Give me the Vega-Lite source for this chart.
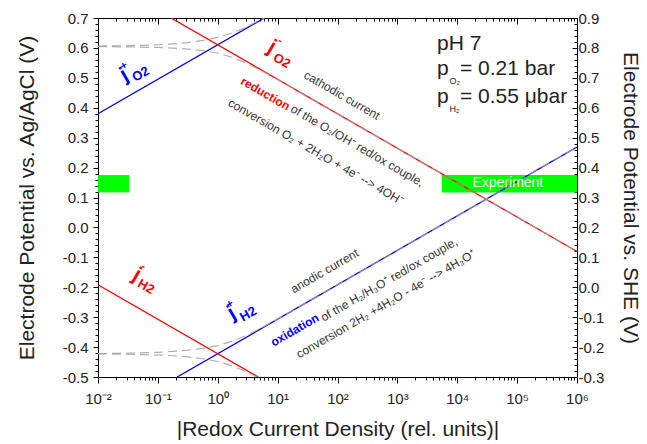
{
  "$schema": "https://vega.github.io/schema/vega-lite/v6.json",
  "width": 479,
  "height": 359,
  "autosize": {"type": "none"},
  "padding": {"left": 98, "top": 18, "right": 70, "bottom": 67},
  "background": "white",
  "config": {
    "view": {"stroke": null},
    "font": "Liberation Sans",
    "axis": {"grid": false, "domainColor": "#000", "tickColor": "#000", "labelColor": "#222", "titleColor": "#222", "labelFont": "Liberation Sans", "titleFont": "Liberation Sans", "labelFontSize": 15, "titleFontSize": 21, "titleFontWeight": "normal", "domainWidth": 1, "tickWidth": 1, "labelOverlap": false, "labelFlush": false}
  },
  "datasets": {
    "bands": [
      {"j": 0.01, "j2": 0.033, "V": 0.117, "V2": 0.175},
      {"j": 5500, "j2": 1000000, "V": 0.117, "V2": 0.175}
    ],
    "exp": [{"j": 70000, "V": 0.1475, "label": "Experiment"}],
    "tafel": [
      {"series": "jO2p", "j": 0.01, "V": 0.3798},
      {"series": "jO2p", "j": 6.03, "V": 0.7},
      {"series": "jO2m", "j": 0.166, "V": 0.7},
      {"series": "jO2m", "j": 1000000, "V": -0.0806},
      {"series": "jH2p", "j": 0.21, "V": -0.5},
      {"series": "jH2p", "j": 1000000, "V": 0.2686},
      {"series": "jH2m", "j": 0.01, "V": -0.1918},
      {"series": "jH2m", "j": 4.76, "V": -0.5}
    ],
    "net": [
      {"branch": "nO2a", "j": 0.01, "V": 0.6063},
      {"branch": "nO2a", "j": 0.03162, "V": 0.6075},
      {"branch": "nO2a", "j": 0.1, "V": 0.6105},
      {"branch": "nO2a", "j": 0.1778, "V": 0.6134},
      {"branch": "nO2a", "j": 0.3162, "V": 0.6179},
      {"branch": "nO2a", "j": 0.5623, "V": 0.6249},
      {"branch": "nO2a", "j": 1, "V": 0.6351},
      {"branch": "nO2a", "j": 1.778, "V": 0.65},
      {"branch": "nO2a", "j": 3.162, "V": 0.6719},
      {"branch": "nO2a", "j": 5.623, "V": 0.6979},
      {"branch": "nO2a", "j": 6.03, "V": 0.7011},
      {"branch": "nO2c", "j": 0.01, "V": 0.6048},
      {"branch": "nO2c", "j": 0.03162, "V": 0.6035},
      {"branch": "nO2c", "j": 0.1, "V": 0.6015},
      {"branch": "nO2c", "j": 0.1778, "V": 0.5996},
      {"branch": "nO2c", "j": 0.3162, "V": 0.5961},
      {"branch": "nO2c", "j": 0.5623, "V": 0.5911},
      {"branch": "nO2c", "j": 1, "V": 0.5829},
      {"branch": "nO2c", "j": 1.778, "V": 0.568},
      {"branch": "nO2c", "j": 3.162, "V": 0.5471},
      {"branch": "nO2c", "j": 5.623, "V": 0.5216},
      {"branch": "nO2c", "j": 10, "V": 0.4942},
      {"branch": "nO2c", "j": 17.78, "V": 0.4659},
      {"branch": "nO2c", "j": 31.62, "V": 0.4373},
      {"branch": "nO2c", "j": 100, "V": 0.3797},
      {"branch": "nO2c", "j": 1000, "V": 0.2646},
      {"branch": "nO2c", "j": 10000, "V": 0.1495},
      {"branch": "nO2c", "j": 100000, "V": 0.0344},
      {"branch": "nO2c", "j": 1000000, "V": -0.0808},
      {"branch": "nH2a", "j": 0.01, "V": -0.4218},
      {"branch": "nH2a", "j": 0.03162, "V": -0.4205},
      {"branch": "nH2a", "j": 0.1, "V": -0.4175},
      {"branch": "nH2a", "j": 0.1778, "V": -0.4146},
      {"branch": "nH2a", "j": 0.3162, "V": -0.4101},
      {"branch": "nH2a", "j": 0.5623, "V": -0.4041},
      {"branch": "nH2a", "j": 1, "V": -0.3949},
      {"branch": "nH2a", "j": 1.778, "V": -0.38},
      {"branch": "nH2a", "j": 3.162, "V": -0.3591},
      {"branch": "nH2a", "j": 5.623, "V": -0.3336},
      {"branch": "nH2a", "j": 10, "V": -0.3062},
      {"branch": "nH2a", "j": 17.78, "V": -0.2779},
      {"branch": "nH2a", "j": 31.62, "V": -0.2493},
      {"branch": "nH2a", "j": 100, "V": -0.1917},
      {"branch": "nH2a", "j": 1000, "V": -0.0766},
      {"branch": "nH2a", "j": 10000, "V": 0.0385},
      {"branch": "nH2a", "j": 100000, "V": 0.1536},
      {"branch": "nH2a", "j": 1000000, "V": 0.2688},
      {"branch": "nH2c", "j": 0.01, "V": -0.4228},
      {"branch": "nH2c", "j": 0.03162, "V": -0.4240},
      {"branch": "nH2c", "j": 0.1, "V": -0.4265},
      {"branch": "nH2c", "j": 0.1778, "V": -0.4290},
      {"branch": "nH2c", "j": 0.3162, "V": -0.4329},
      {"branch": "nH2c", "j": 0.5623, "V": -0.4389},
      {"branch": "nH2c", "j": 1, "V": -0.4481},
      {"branch": "nH2c", "j": 1.778, "V": -0.4635},
      {"branch": "nH2c", "j": 3.162, "V": -0.4845},
      {"branch": "nH2c", "j": 4.6, "V": -0.5005}
    ],
    "info": [
      {"text": "pH 7", "j": 4590, "V": 0.613},
      {"text": "p", "j": 4590, "V": 0.5295},
      {"text": "= 0.21 bar", "j": 11100, "V": 0.5295},
      {"text": "p", "j": 4590, "V": 0.437},
      {"text": "= 0.55 μbar", "j": 11100, "V": 0.437}
    ],
    "infosub": [
      {"text": "O₂", "j": 7400, "V": 0.488},
      {"text": "H₂", "j": 7400, "V": 0.395}
    ],
    "notes": [
      {"dir": "cath", "emph": "no", "text": "cathodic current", "j": 28.7, "V": 0.513},
      {"dir": "cath", "emph": "yes", "text": "reduction", "j": 2.51, "V": 0.4928},
      {"dir": "cath", "emph": "no", "text": "of the O₂/OH⁻ red/ox couple,", "j": 17.2, "V": 0.4},
      {"dir": "cath", "emph": "no", "text": "conversion O₂ + 2H₂O + 4e⁻ --> 4OH⁻", "j": 1.56, "V": 0.42},
      {"dir": "anod", "emph": "no", "text": "anodic current", "j": 17.2, "V": -0.209},
      {"dir": "anod", "emph": "yes", "text": "oxidation", "j": 7.96, "V": -0.3874},
      {"dir": "anod", "emph": "no", "text": "of the H₂/H₃O⁺ red/ox couple,", "j": 54.5, "V": -0.3038},
      {"dir": "anod", "emph": "no", "text": "conversion 2H₂ +4H₂O - 4e⁻ --> 4H₃O⁺", "j": 21.3, "V": -0.4265}
    ],
    "jlabels": [
      {"kind": "anod", "part": "j", "text": "j", "j": 0.02748, "V": 0.5095},
      {"kind": "anod", "part": "sup", "text": "+", "j": 0.0272, "V": 0.5396},
      {"kind": "anod", "part": "sub", "text": "O2", "j": 0.0516, "V": 0.5118},
      {"kind": "anod", "part": "j", "text": "j", "j": 1.71, "V": -0.287},
      {"kind": "anod", "part": "sup", "text": "+", "j": 1.6, "V": -0.257},
      {"kind": "anod", "part": "sub", "text": "H2", "j": 3.24, "V": -0.29},
      {"kind": "cath", "part": "j", "text": "j", "j": 7.96, "V": 0.602},
      {"kind": "cath", "part": "sup", "text": "-", "j": 10.96, "V": 0.623},
      {"kind": "cath", "part": "sub", "text": "O2", "j": 11.7, "V": 0.557},
      {"kind": "cath", "part": "j", "text": "j", "j": 0.0443, "V": -0.159},
      {"kind": "cath", "part": "sup", "text": "-", "j": 0.0571, "V": -0.131},
      {"kind": "cath", "part": "sub", "text": "H2", "j": 0.0633, "V": -0.198}
    ]
  },
  "layer": [
    {
      "encoding": {
        "x": {"field": "j", "type": "quantitative", "scale": {"type": "log", "domain": [0.01, 1000000], "nice": false},
          "axis": {"orient": "bottom", "title": "|Redox Current Density (rel. units)|", "labelOverlap": false, "labelBound": false,
            "values": [0.01,0.02,0.03,0.04,0.05,0.06,0.07,0.08,0.09,0.1,0.2,0.3,0.4,0.5,0.6,0.7,0.8,0.9,1,2,3,4,5,6,7,8,9,10,20,30,40,50,60,70,80,90,100,200,300,400,500,600,700,800,900,1000,2000,3000,4000,5000,6000,7000,8000,9000,10000,20000,30000,40000,50000,60000,70000,80000,90000,100000,200000,300000,400000,500000,600000,700000,800000,900000,1000000],
            "labelExpr": "abs(log(datum.value)/LN10 - round(log(datum.value)/LN10)) < 0.000001 ? '10' + ['⁻²','⁻¹','⁰','¹','²','³','⁴','⁵','⁶'][round(log(datum.value)/LN10)+2] : ''",
            "tickSize": {"condition": {"test": "abs(log(datum.value)/LN10 - round(log(datum.value)/LN10)) < 0.000001", "value": 6}, "value": 3},
            "labelPadding": 8, "titlePadding": 12}},
        "y": {"field": "V", "type": "quantitative", "scale": {"domain": [-0.5, 0.7], "nice": false, "zero": false},
          "axis": {"orient": "left", "title": "Electrode Potential vs. Ag/AgCl (V)", "labelOverlap": false, "labelBound": false,
            "values": [-0.5,-0.48,-0.46,-0.44,-0.42,-0.4,-0.38,-0.36,-0.34,-0.32,-0.3,-0.28,-0.26,-0.24,-0.22,-0.2,-0.18,-0.16,-0.14,-0.12,-0.1,-0.08,-0.06,-0.04,-0.02,0,0.02,0.04,0.06,0.08,0.1,0.12,0.14,0.16,0.18,0.2,0.22,0.24,0.26,0.28,0.3,0.32,0.34,0.36,0.38,0.4,0.42,0.44,0.46,0.48,0.5,0.52,0.54,0.56,0.58,0.6,0.62,0.64,0.66,0.68,0.7],
            "labelExpr": "abs(datum.value*10 - round(datum.value*10)) < 0.000001 ? replace(format(datum.value, '.1f'), '−', '-') : ''",
            "tickSize": {"condition": {"test": "abs(datum.value*10 - round(datum.value*10)) < 0.000001", "value": 5}, "value": 3},
            "labelPadding": 5, "titlePadding": 25}}
      },
      "layer": [
        {
          "data": {"name": "bands"},
          "mark": {"type": "rect", "color": "#00ff00", "opacity": 1},
          "encoding": {"x2": {"field": "j2"}, "y2": {"field": "V2"}}
        },
        {
          "data": {"name": "tafel"},
          "mark": {"type": "line", "strokeWidth": 1.3, "clip": true},
          "encoding": {
            "color": {"field": "series", "type": "nominal", "scale": {"domain": ["jO2p", "jO2m", "jH2p", "jH2m"], "range": ["#0000ff", "#ff0000", "#0000ff", "#ff0000"]}, "legend": null},
            "detail": {"field": "series"}
          }
        },
        {
          "data": {"name": "net"},
          "mark": {"type": "line", "strokeWidth": 1.2, "color": "#a0a0a0", "strokeDash": [9, 5], "clip": true, "opacity": 0.85},
          "encoding": {"detail": {"field": "branch"}}
        },
        {
          "data": {"name": "exp"},
          "mark": {"type": "text", "color": "white", "fontSize": 14, "align": "center", "baseline": "middle"},
          "encoding": {"text": {"field": "label"}}
        },
        {
          "data": {"name": "info"},
          "mark": {"type": "text", "color": "#222", "fontSize": 21, "align": "left", "baseline": "middle"},
          "encoding": {"text": {"field": "text"}}
        },
        {
          "data": {"name": "infosub"},
          "mark": {"type": "text", "color": "#222", "fontSize": 9, "align": "left", "baseline": "middle"},
          "encoding": {"text": {"field": "text"}}
        },
        {
          "data": {"name": "notes"},
          "transform": [{"filter": "datum.dir == 'cath' && datum.emph == 'no'"}],
          "mark": {"type": "text", "color": "#333", "fontSize": 12, "align": "left", "baseline": "middle", "angle": 30},
          "encoding": {"text": {"field": "text"}}
        },
        {
          "data": {"name": "notes"},
          "transform": [{"filter": "datum.dir == 'cath' && datum.emph == 'yes'"}],
          "mark": {"type": "text", "color": "#ff0000", "fontSize": 12, "fontWeight": "bold", "align": "left", "baseline": "middle", "angle": 30},
          "encoding": {"text": {"field": "text"}}
        },
        {
          "data": {"name": "notes"},
          "transform": [{"filter": "datum.dir == 'anod' && datum.emph == 'no'"}],
          "mark": {"type": "text", "color": "#333", "fontSize": 12, "align": "left", "baseline": "middle", "angle": -30},
          "encoding": {"text": {"field": "text"}}
        },
        {
          "data": {"name": "notes"},
          "transform": [{"filter": "datum.dir == 'anod' && datum.emph == 'yes'"}],
          "mark": {"type": "text", "color": "#0000ff", "fontSize": 12, "fontWeight": "bold", "align": "left", "baseline": "middle", "angle": -30},
          "encoding": {"text": {"field": "text"}}
        },
        {
          "data": {"name": "jlabels"},
          "transform": [{"filter": "datum.kind == 'anod' && datum.part == 'j'"}],
          "mark": {"type": "text", "color": "#0000ff", "fontSize": 21, "fontWeight": "bold", "align": "center", "baseline": "middle", "angle": -30},
          "encoding": {"text": {"field": "text"}}
        },
        {
          "data": {"name": "jlabels"},
          "transform": [{"filter": "datum.kind == 'anod' && datum.part == 'sup'"}],
          "mark": {"type": "text", "color": "#0000ff", "fontSize": 11, "fontWeight": "bold", "align": "center", "baseline": "middle", "angle": -30},
          "encoding": {"text": {"field": "text"}}
        },
        {
          "data": {"name": "jlabels"},
          "transform": [{"filter": "datum.kind == 'anod' && datum.part == 'sub'"}],
          "mark": {"type": "text", "color": "#0000ff", "fontSize": 13, "fontWeight": "bold", "align": "center", "baseline": "middle", "angle": -30},
          "encoding": {"text": {"field": "text"}}
        },
        {
          "data": {"name": "jlabels"},
          "transform": [{"filter": "datum.kind == 'cath' && datum.part == 'j'"}],
          "mark": {"type": "text", "color": "#ff0000", "fontSize": 21, "fontWeight": "bold", "align": "center", "baseline": "middle", "angle": 30},
          "encoding": {"text": {"field": "text"}}
        },
        {
          "data": {"name": "jlabels"},
          "transform": [{"filter": "datum.kind == 'cath' && datum.part == 'sup'"}],
          "mark": {"type": "text", "color": "#ff0000", "fontSize": 11, "fontWeight": "bold", "align": "center", "baseline": "middle", "angle": 30},
          "encoding": {"text": {"field": "text"}}
        },
        {
          "data": {"name": "jlabels"},
          "transform": [{"filter": "datum.kind == 'cath' && datum.part == 'sub'"}],
          "mark": {"type": "text", "color": "#ff0000", "fontSize": 13, "fontWeight": "bold", "align": "center", "baseline": "middle", "angle": 30},
          "encoding": {"text": {"field": "text"}}
        }
      ]
    },
    {
      "data": {"values": [{"j": 0.01, "S": -0.3}, {"j": 1000000, "S": 0.9}]},
      "mark": {"type": "point", "opacity": 0},
      "encoding": {
        "x": {"field": "j", "type": "quantitative", "scale": {"type": "log", "domain": [0.01, 1000000], "nice": false},
          "axis": {"orient": "top", "title": null, "labels": false,
            "values": [0.01,0.02,0.03,0.04,0.05,0.06,0.07,0.08,0.09,0.1,0.2,0.3,0.4,0.5,0.6,0.7,0.8,0.9,1,2,3,4,5,6,7,8,9,10,20,30,40,50,60,70,80,90,100,200,300,400,500,600,700,800,900,1000,2000,3000,4000,5000,6000,7000,8000,9000,10000,20000,30000,40000,50000,60000,70000,80000,90000,100000,200000,300000,400000,500000,600000,700000,800000,900000,1000000],
            "tickSize": {"condition": {"test": "abs(log(datum.value)/LN10 - round(log(datum.value)/LN10)) < 0.000001", "value": -6}, "value": -3}}},
        "y": {"field": "S", "type": "quantitative", "scale": {"domain": [-0.3, 0.9], "nice": false, "zero": false},
          "axis": {"orient": "right", "title": "Electrode Potential vs. SHE (V)", "labelOverlap": false, "labelBound": false,
            "values": [-0.3,-0.28,-0.26,-0.24,-0.22,-0.2,-0.18,-0.16,-0.14,-0.12,-0.1,-0.08,-0.06,-0.04,-0.02,0,0.02,0.04,0.06,0.08,0.1,0.12,0.14,0.16,0.18,0.2,0.22,0.24,0.26,0.28,0.3,0.32,0.34,0.36,0.38,0.4,0.42,0.44,0.46,0.48,0.5,0.52,0.54,0.56,0.58,0.6,0.62,0.64,0.66,0.68,0.7,0.72,0.74,0.76,0.78,0.8,0.82,0.84,0.86,0.88,0.9],
            "labelExpr": "abs(datum.value*10 - round(datum.value*10)) < 0.000001 ? replace(format(datum.value, '.1f'), '−', '-') : ''",
            "tickSize": {"condition": {"test": "abs(datum.value*10 - round(datum.value*10)) < 0.000001", "value": -5}, "value": -3},
            "labelPadding": 6, "titlePadding": 16}}
      }
    }
  ],
  "resolve": {"scale": {"x": "independent", "y": "independent"}}
}
